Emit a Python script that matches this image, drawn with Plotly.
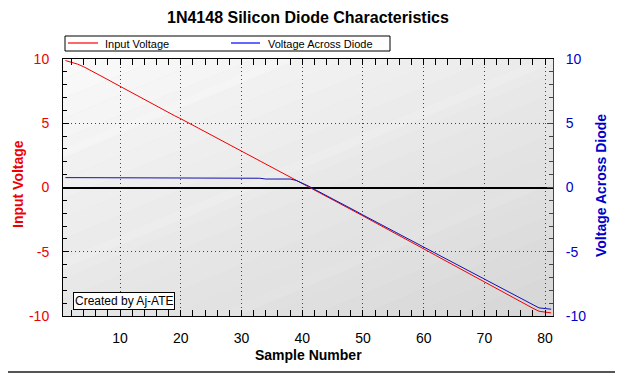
import plotly.graph_objects as go

# ---------------- data ----------------
sample_number = list(range(1, 82))

input_voltage = [
    9.88, 9.76, 9.60, 9.40, 9.16, 8.91, 8.65, 8.39, 8.13, 7.87,
    7.61, 7.35, 7.09, 6.83, 6.57, 6.31, 6.06, 5.81, 5.58, 5.35,
    5.10, 4.85, 4.60, 4.35, 4.10, 3.85, 3.60, 3.35, 3.10, 2.85,
    2.60, 2.35, 2.10, 1.85, 1.60, 1.35, 1.10, 0.85, 0.60, 0.35,
    0.10, -0.16, -0.41, -0.67, -0.93, -1.18, -1.44, -1.70, -1.95, -2.21,
    -2.47, -2.72, -2.98, -3.24, -3.49, -3.75, -4.01, -4.26, -4.52, -4.78,
    -5.03, -5.29, -5.55, -5.80, -6.06, -6.32, -6.57, -6.83, -7.09, -7.34,
    -7.60, -7.86, -8.11, -8.37, -8.63, -8.88, -9.14, -9.40, -9.63, -9.72,
    -9.76,
]

voltage_across_diode = [
    0.77, 0.77, 0.77, 0.77, 0.77, 0.77, 0.77, 0.77, 0.77, 0.77,
    0.77, 0.77, 0.77, 0.77, 0.77, 0.77, 0.77, 0.77, 0.77, 0.77,
    0.72, 0.72, 0.72, 0.72, 0.72, 0.72, 0.72, 0.72, 0.72, 0.72,
    0.72, 0.72, 0.72, 0.66, 0.66, 0.66, 0.66, 0.66, 0.55, 0.35,
    0.12, -0.14, -0.38, -0.64, -0.89, -1.13, -1.39, -1.64, -1.88, -2.14,
    -2.39, -2.64, -2.89, -3.14, -3.39, -3.64, -3.89, -4.14, -4.39, -4.64,
    -4.89, -5.14, -5.39, -5.64, -5.89, -6.14, -6.39, -6.64, -6.89, -7.14,
    -7.39, -7.64, -7.89, -8.14, -8.40, -8.64, -8.89, -9.15, -9.37, -9.42,
    -9.47,
]

x_tick_vals = [10, 20, 30, 40, 50, 60, 70, 80]
y_tick_vals = [-10, -5, 0, 5, 10]
y_tick_text = ["-10", "-5", "0", "5", "10"]

title_text = "1N4148 Silicon Diode Characteristics"
x_title = "Sample Number"
y_title = "Input Voltage"
y2_title = "Voltage Across Diode"
credit_text = "Created by Aj-ATE"

# ---------------- layout geometry ----------------
# The page body has an 8px margin, so the figure is sized/offset to land
# on the same window pixels as the reference.
OFF = 8
W, H = 623 - OFF, 381 - 2 * OFF
# plot area in window pixels
WL, WR, WT, WB = 63, 553, 59, 316
L, R, T, B = WL - OFF, WR - OFF, WT - OFF, WB - OFF
X_RANGE = [0.6, 81.3]
Y_RANGE = [-10, 10]
FONT = "Liberation Sans, Arial, sans-serif"
RED = "#ee0000"
BLUE = "#1212b0"


def wx(px):  # window x pixel -> paper
    return (px - WL) / (WR - WL)


def wy(py):  # window y pixel -> paper
    return (WB - py) / (WB - WT)


sx = (WR - WL) / (X_RANGE[1] - X_RANGE[0])
sy = (WB - WT) / (Y_RANGE[1] - Y_RANGE[0])


def pix_to_data(px, py):
    # px, py relative to plot-area top-left
    return X_RANGE[0] + px / sx, Y_RANGE[1] - py / sy


fig = go.Figure()

fig.add_trace(go.Scatter(
    x=sample_number, y=input_voltage, mode="lines", name="Input Voltage",
    line=dict(color=RED, width=1), showlegend=False, yaxis="y",
))
fig.add_trace(go.Scatter(
    x=sample_number, y=voltage_across_diode, mode="lines", name="Voltage Across Diode",
    line=dict(color=BLUE, width=1), showlegend=False, yaxis="y2",
))

shapes = []

# diagonal gradient background bands (clipped to plot area via data refs)
slope = 0.42
t = -120
step = 20
while t < 620:
    ta, tb = t, t + step
    tm = (ta + tb) / 2
    frac = min(max(tm / 460.0, 0), 1)
    g = int(round(250 - frac * (250 - 214)))
    pts = [(-150, ta + 150 * slope), (650, ta - 650 * slope),
           (650, tb - 650 * slope), (-150, tb + 150 * slope)]
    dpts = [pix_to_data(px, py) for px, py in pts]
    path = "M " + " L ".join(f"{a:.4f},{b:.4f}" for a, b in dpts) + " Z"
    shapes.append(dict(type="path", path=path, xref="x", yref="y",
                       fillcolor=f"rgb({g},{g},{g})", line=dict(width=0),
                       layer="below"))
    t += step

# faint light streaks
for tc, w, a in [(90, 8, 0.18), (200, 10, 0.15), (320, 10, 0.12)]:
    pts = [(-150, tc + 150 * slope), (650, tc - 650 * slope),
           (650, tc + w - 650 * slope), (-150, tc + w + 150 * slope)]
    dpts = [pix_to_data(px, py) for px, py in pts]
    path = "M " + " L ".join(f"{a_:.4f},{b_:.4f}" for a_, b_ in dpts) + " Z"
    shapes.append(dict(type="path", path=path, xref="x", yref="y",
                       fillcolor=f"rgba(255,255,255,{a})", line=dict(width=0),
                       layer="below"))

# outer window frame (bottom edge)
shapes.append(dict(type="rect", xref="paper", yref="paper",
                   x0=wx(8), x1=wx(623), y0=wy(373), y1=wy(371),
                   fillcolor="#555555", line=dict(width=0)))

# manual legend
shapes.append(dict(type="rect", xref="paper", yref="paper",
                   x0=wx(65), x1=wx(390), y0=wy(51), y1=wy(36),
                   fillcolor="white", line=dict(color="black", width=1)))
shapes.append(dict(type="line", xref="paper", yref="paper",
                   x0=wx(68), x1=wx(98), y0=wy(43), y1=wy(43),
                   line=dict(color="#ff0000", width=1.2)))
shapes.append(dict(type="line", xref="paper", yref="paper",
                   x0=wx(231), x1=wx(260), y0=wy(43), y1=wy(43),
                   line=dict(color="#0000ff", width=1.2)))

annotations = [
    dict(text="Input Voltage", xref="paper", yref="paper",
         x=wx(103), y=wy(43.5), xanchor="left", yanchor="middle",
         showarrow=False, font=dict(family=FONT, size=11, color="black")),
    dict(text="Voltage Across Diode", xref="paper", yref="paper",
         x=wx(266), y=wy(43.5), xanchor="left", yanchor="middle",
         showarrow=False, font=dict(family=FONT, size=11, color="black")),
    dict(text=credit_text, xref="paper", yref="paper",
         x=wx(73), y=wy(301), xanchor="left", yanchor="middle",
         showarrow=False, bgcolor="white", bordercolor="black", borderwidth=1,
         borderpad=1, font=dict(family=FONT, size=12, color="black")),
    dict(text=f"<b>{y_title}</b>", xref="paper", yref="paper",
         x=wx(18), y=wy(184), xanchor="center", yanchor="middle",
         textangle=-90, showarrow=False, font=dict(family=FONT, size=14, color=RED)),
    dict(text=f"<b>{y2_title}</b>", xref="paper", yref="paper",
         x=wx(601), y=wy(186), xanchor="center", yanchor="middle",
         textangle=-90, showarrow=False, font=dict(family=FONT, size=14, color="#0000cc")),
    dict(text=f"<b>{x_title}</b>", xref="paper", yref="paper",
         x=0.5, y=wy(355), xanchor="center", yanchor="middle",
         showarrow=False, font=dict(family=FONT, size=14, color="black")),
    dict(text=f"<b>{title_text}</b>", xref="paper", yref="paper",
         x=0.5, y=wy(18), xanchor="center", yanchor="middle",
         showarrow=False, font=dict(family=FONT, size=16, color="black")),
]

fig.update_layout(
    width=W, height=H,
    margin=dict(l=L, r=W - R, t=T, b=H - B, pad=0, autoexpand=False),
    paper_bgcolor="white",
    plot_bgcolor="#e6e6e6",
    showlegend=False,
    shapes=shapes,
    annotations=annotations,
    font=dict(family=FONT, size=14, color="black"),
    xaxis=dict(
        range=X_RANGE, tickvals=x_tick_vals, ticktext=[str(v) for v in x_tick_vals],
        showgrid=True, gridcolor="#444444", griddash="1px,3px", gridwidth=1,
        showline=True, linecolor="black", linewidth=1, mirror="allticks",
        ticks="inside", ticklen=6, tickcolor="black",
        minor=dict(dtick=2, tick0=0, ticks="inside", ticklen=4, tickcolor="black", showgrid=False),
        tickfont=dict(family=FONT, size=14, color="black"),
        zeroline=False, fixedrange=True,
        ticklabelstandoff=9,
    ),
    yaxis=dict(
        range=Y_RANGE, tickvals=y_tick_vals, ticktext=y_tick_text,
        showgrid=True, gridcolor="#444444", griddash="1px,3px", gridwidth=1,
        showline=True, linecolor="black", linewidth=1,
        ticks="inside", ticklen=6, tickcolor="black",
        minor=dict(dtick=1, tick0=0, ticks="inside", ticklen=4, tickcolor="black", showgrid=False),
        tickfont=dict(family=FONT, size=14, color=RED),
        zeroline=True, zerolinecolor="black", zerolinewidth=1.6,
        ticklabelstandoff=10,
    ),
    yaxis2=dict(
        range=Y_RANGE, overlaying="y", side="right",
        tickvals=y_tick_vals, ticktext=y_tick_text,
        showgrid=False, zeroline=False,
        showline=True, linecolor="#444444", linewidth=1,
        ticks="inside", ticklen=6, tickcolor="#444444",
        minor=dict(dtick=1, tick0=0, ticks="inside", ticklen=4, tickcolor="#444444", showgrid=False),
        tickfont=dict(family=FONT, size=14, color="#0000cc"),
        ticklabelstandoff=9,
    ),
)

fig.write_html("out.html")
